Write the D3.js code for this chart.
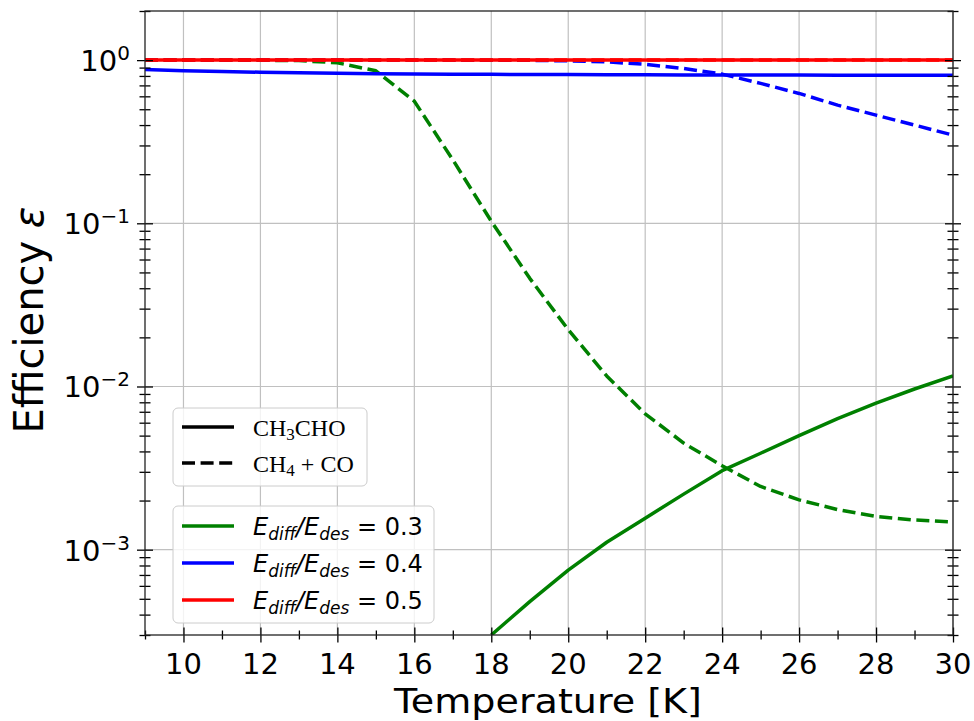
<!DOCTYPE html>
<html>
<head>
<meta charset="utf-8">
<script src="https://cdn.jsdelivr.net/npm/d3@7"></script>
<style>
  body { margin: 0; background: #fff; }
  text { font-family: "DejaVu Sans", sans-serif; fill: #000; }
</style>
</head>
<body>
<svg id="chart" width="974" height="721"></svg>
<script>
// Temperature grid [K]
const temperatures = [9, 10, 11, 12, 13, 14, 15, 16, 17, 18, 19, 20, 21, 22, 23, 24, 25, 26, 27, 28, 29, 30];

// Efficiency, E_diff/E_des = 0.3
const eff03_CH3CHO = [null, null, null, null, null, null, null, null, null,
  3.0e-4, 4.8e-4, 7.5e-4, 1.11e-3, 1.56e-3, 2.19e-3, 3.05e-3, 3.9e-3, 5.0e-3, 6.35e-3, 7.9e-3, 9.65e-3, 1.16e-2];
const eff03_CH4CO = [1.0, 1.0, 1.0, 0.998, 0.993, 0.963, 0.86, 0.56, 0.245, 0.103, 0.046, 0.0223,
  0.0116, 0.0068, 0.0045, 0.00327, 0.00244, 0.00202, 0.00176, 0.0016, 0.00152, 0.00148];

// Efficiency, E_diff/E_des = 0.4
const eff04_CH3CHO = [0.877, 0.862, 0.851, 0.843, 0.836, 0.831, 0.826, 0.823, 0.82, 0.818, 0.816,
  0.815, 0.814, 0.813, 0.812, 0.811, 0.81, 0.81, 0.809, 0.809, 0.808, 0.808];
const eff04_CH4CO = [1.0, 1.0, 1.0, 1.0, 1.0, 1.0, 1.0, 1.0, 1.0, 0.999, 0.997, 0.99,
  0.975, 0.943, 0.889, 0.821, 0.72, 0.625, 0.53, 0.46, 0.40, 0.347];

// Efficiency, E_diff/E_des = 0.5
const eff05_CH3CHO = [1.0, 1.0, 1.0, 1.0, 1.0, 1.0, 1.0, 1.0, 1.0, 1.0, 1.0,
  1.0, 1.0, 1.0, 1.0, 1.0, 1.0, 1.0, 1.0, 1.0, 1.0, 1.0];
const eff05_CH4CO = [1.0, 1.0, 1.0, 1.0, 1.0, 1.0, 1.0, 1.0, 1.0, 1.0, 1.0,
  1.0, 1.0, 1.0, 1.0, 1.0, 1.0, 1.0, 1.0, 1.0, 1.0, 1.0];

// Axis ticks
const xMajorTicks = [10, 12, 14, 16, 18, 20, 22, 24, 26, 28, 30];
const xMinorTicks = [9, 11, 13, 15, 17, 19, 21, 23, 25, 27, 29];
const yMajorExponents = [0, -1, -2, -3];

// Legend labels
const ratioLabels = ["0.3", "0.4", "0.5"];
const ratioColors = ["#008000", "#0000ff", "#ff0000"];

const series = [
  { values: eff03_CH3CHO, color: ratioColors[0], dashed: false },
  { values: eff03_CH4CO,  color: ratioColors[0], dashed: true },
  { values: eff04_CH3CHO, color: ratioColors[1], dashed: false },
  { values: eff04_CH4CO,  color: ratioColors[1], dashed: true },
  { values: eff05_CH3CHO, color: ratioColors[2], dashed: false },
  { values: eff05_CH4CO,  color: ratioColors[2], dashed: true }
];

const LW = 3.5;
const DASH = "13,5.6";

const svg = d3.select("#chart");
const plot = { left: 145, right: 953, top: 11, bottom: 635 };

const x = d3.scaleLinear().domain([9, 30]).range([plot.left, plot.right]);
const y = d3.scaleLog().domain([3e-4, 2]).range([plot.bottom, plot.top]);

const yMajorTicks = yMajorExponents.map(e => Math.pow(10, e));
const yMinorTicks = [];
for (let e = -4; e <= 0; e++) {
  for (let m = 2; m <= 9; m++) {
    const v = m * Math.pow(10, e);
    if (v >= 3e-4 * 0.999 && v <= 2 * 1.001) yMinorTicks.push(v);
  }
}

// Grid
const grid = svg.append("g").attr("stroke", "#c0c0c0").attr("stroke-width", 1.2);
grid.selectAll("line.gx").data(xMajorTicks).join("line")
  .attr("x1", d => x(d)).attr("x2", d => x(d))
  .attr("y1", plot.top).attr("y2", plot.bottom);
grid.selectAll("line.gy").data(yMajorTicks).join("line")
  .attr("x1", plot.left).attr("x2", plot.right)
  .attr("y1", d => y(d)).attr("y2", d => y(d));

// Data lines
svg.append("clipPath").attr("id", "plotClip").append("rect")
  .attr("x", plot.left).attr("y", plot.top)
  .attr("width", plot.right - plot.left).attr("height", plot.bottom - plot.top);

const line = d3.line()
  .defined(d => d[1] != null)
  .x(d => x(d[0]))
  .y(d => y(d[1]));

const lines = svg.append("g").attr("clip-path", "url(#plotClip)");
series.forEach(s => {
  lines.append("path")
    .datum(temperatures.map((t, i) => [t, s.values[i]]))
    .attr("d", line)
    .attr("fill", "none")
    .attr("stroke", s.color)
    .attr("stroke-width", LW)
    .attr("stroke-dasharray", s.dashed ? DASH : null)
    .attr("stroke-linecap", "butt")
    .attr("stroke-linejoin", "round");
});

// Axes with ticks crossing the spines
function inout(g, orient, len) {
  g.selectAll(".tick line")
    .attr(orient === "h" ? "y1" : "x1", len)
    .attr(orient === "h" ? "y2" : "x2", -len)
    .attr("stroke", "#000").attr("stroke-width", 1.3);
  g.select(".domain").remove();
  g.selectAll(".tick text").remove();
}

const axX = svg.append("g").attr("transform", `translate(0,${plot.bottom})`)
  .call(d3.axisBottom(x).tickValues(xMajorTicks).tickFormat(""));
inout(axX, "h", 7.5);
const axXm = svg.append("g").attr("transform", `translate(0,${plot.bottom})`)
  .call(d3.axisBottom(x).tickValues(xMinorTicks).tickFormat(""));
inout(axXm, "h", 4.5);

[plot.left, plot.right].forEach(px => {
  const a = svg.append("g").attr("transform", `translate(${px},0)`)
    .call(d3.axisLeft(y).tickValues(yMajorTicks).tickFormat(""));
  inout(a, "v", 8);
  const b = svg.append("g").attr("transform", `translate(${px},0)`)
    .call(d3.axisLeft(y).tickValues(yMinorTicks).tickFormat(""));
  inout(b, "v", 5.5);
});

// Spines
svg.append("rect")
  .attr("x", plot.left).attr("y", plot.top)
  .attr("width", plot.right - plot.left).attr("height", plot.bottom - plot.top)
  .attr("fill", "none").attr("stroke", "#222").attr("stroke-width", 1.3);

// Tick labels
svg.append("g").selectAll("text").data(xMajorTicks).join("text")
  .attr("x", d => x(d)).attr("y", 674)
  .attr("text-anchor", "middle")
  .attr("font-size", 29)
  .text(d => d);

const yLab = svg.append("g").selectAll("text").data(yMajorExponents).join("text")
  .attr("x", 130).attr("y", d => y(Math.pow(10, d)) + 11)
  .attr("text-anchor", "end")
  .attr("font-size", 29);
yLab.append("tspan").text("10");
yLab.append("tspan").attr("font-size", 20).attr("dy", -11)
  .text(d => d < 0 ? "\u2212" + (-d) : String(d));

// Axis titles
svg.append("text")
  .attr("transform", "translate(548,713) scale(1.12,1)")
  .attr("text-anchor", "middle").attr("font-size", 34)
  .text("Temperature [K]");

const yt = svg.append("text")
  .attr("transform", `translate(43,320) rotate(-90)`)
  .attr("text-anchor", "middle").attr("font-size", 40);
yt.append("tspan").text("Efficiency ");
yt.append("tspan").attr("font-style", "italic").text("\u03B5");

// Legends
function legendFrame(x0, y0, w, h) {
  svg.append("rect")
    .attr("x", x0).attr("y", y0).attr("width", w).attr("height", h)
    .attr("rx", 5).attr("ry", 5)
    .attr("fill", "#fff").attr("fill-opacity", 0.8)
    .attr("stroke", "#cccccc").attr("stroke-width", 1);
}

// Species legend
legendFrame(173, 408, 194, 78);
const speciesY = [427, 463];
svg.append("line").attr("x1", 182).attr("x2", 234).attr("y1", speciesY[0]).attr("y2", speciesY[0])
  .attr("stroke", "#000").attr("stroke-width", LW);
svg.append("line").attr("x1", 182).attr("x2", 234).attr("y1", speciesY[1]).attr("y2", speciesY[1])
  .attr("stroke", "#000").attr("stroke-width", LW).attr("stroke-dasharray", DASH);

const serif = "'Liberation Serif', 'Times New Roman', serif";
const s1 = svg.append("text").attr("x", 253).attr("y", speciesY[0] + 9)
  .attr("font-size", 24).style("font-family", serif);
s1.append("tspan").text("CH");
s1.append("tspan").attr("font-size", 17).attr("dy", 3.5).text("3");
s1.append("tspan").attr("dy", -3.5).text("CHO");

const s2 = svg.append("text").attr("x", 253).attr("y", speciesY[1] + 9)
  .attr("font-size", 24).style("font-family", serif);
s2.append("tspan").text("CH");
s2.append("tspan").attr("font-size", 17).attr("dy", 3.5).text("4");
s2.append("tspan").attr("dy", -3.5).text(" + CO");

// Energy ratio legend
legendFrame(173, 506, 261, 117);
const ratioY = [526, 563, 600];
ratioLabels.forEach((lab, i) => {
  svg.append("line").attr("x1", 182).attr("x2", 234).attr("y1", ratioY[i]).attr("y2", ratioY[i])
    .attr("stroke", ratioColors[i]).attr("stroke-width", LW);
  const t = svg.append("text").attr("x", 253).attr("y", ratioY[i] + 9).attr("font-size", 24);
  t.append("tspan").attr("font-style", "italic").text("E");
  t.append("tspan").attr("font-style", "italic").attr("font-size", 17).attr("dy", 4.5).text("diff");
  t.append("tspan").attr("font-style", "italic").attr("dy", -4.5).text("/E");
  t.append("tspan").attr("font-style", "italic").attr("font-size", 17).attr("dy", 4.5).text("des");
  t.append("tspan").attr("dy", -4.5).text(" = " + lab);
});
</script>
</body>
</html>
